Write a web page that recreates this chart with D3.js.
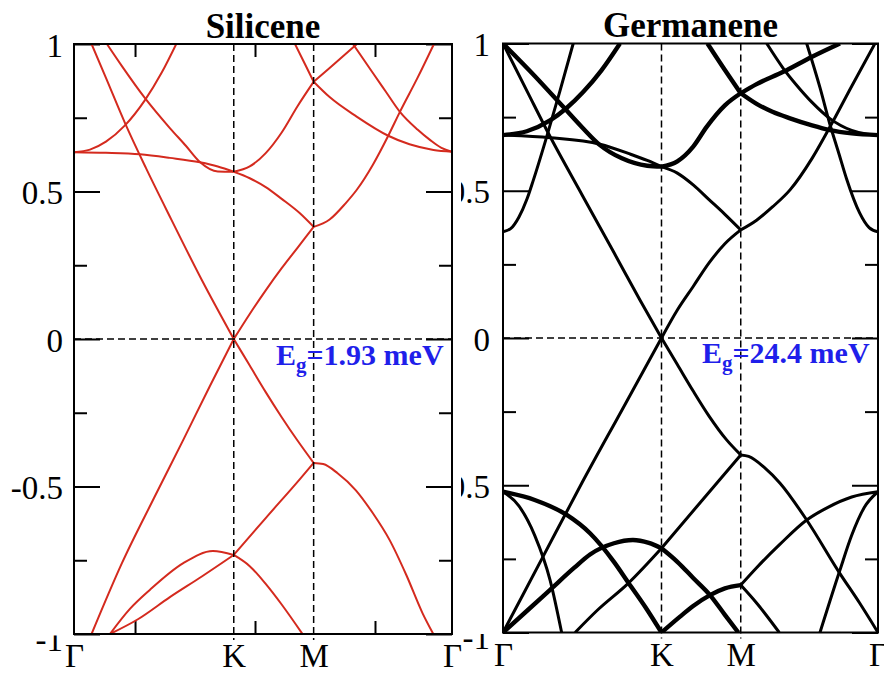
<!DOCTYPE html>
<html>
<head>
<meta charset="utf-8">
<script src="https://cdn.jsdelivr.net/npm/d3@7"></script>
<style>
body { margin: 0; background: #fff; }
</style>
</head>
<body>
<div id="chart"></div>
<script>
// k path G-K-M-G, distance in units of |GK|
var kPos = [0, 1, 1.5, 2.366];
var kLabels = ["\u0393", "K", "M", "\u0393"];
var yMajor = [-1, -0.5, 0, 0.5, 1];
var yMinor = [-0.75, -0.25, 0.25, 0.75];
var yLabels = ["-1", "-0.5", "0", "0.5", "1"];
var xMinorSil = [0.382, 1.133, 1.884];

var titles = ["Silicene", "Germanene"];
var gaps = ["1.93 meV", "24.4 meV"];

// [k, E] points
var siliceneBands = [
    [[0.11,1],[0.2,0.885],[0.32,0.731],[0.45,0.58],[0.611,0.403],[0.8,0.2],[1,0],[1.1,0.085],[1.2,0.165],[1.3,0.24],[1.4,0.31],[1.5,0.38],[1.6,0.405],[1.7,0.46],[1.769,0.505],[1.87,0.59],[1.967,0.689],[2.04,0.77],[2.15,0.885],[2.253,1]],
    [[0.11,-1],[0.3,-0.76],[0.5,-0.54],[0.684,-0.342],[0.85,-0.16],[1,0],[1.1,-0.09],[1.2,-0.18],[1.3,-0.265],[1.4,-0.345],[1.5,-0.42],[1.56,-0.424],[1.65,-0.455],[1.763,-0.512],[1.87,-0.59],[1.975,-0.681],[2.08,-0.8],[2.182,-0.93],[2.249,-1]],
    [[0.206,1],[0.3,0.925],[0.442,0.818],[0.6,0.715],[0.7,0.655],[0.788,0.6],[0.9,0.568],[1,0.567],[1.1,0.585],[1.2,0.63],[1.3,0.7],[1.4,0.79],[1.5,0.872],[1.6,0.919],[1.771,1]],
    [[0,0.633],[0.2,0.631],[0.413,0.626],[0.6,0.614],[0.788,0.599],[0.9,0.585],[1,0.567],[1.1,0.545],[1.2,0.515],[1.3,0.475],[1.414,0.426],[1.5,0.38]],
    [[0,0.633],[0.1,0.642],[0.2,0.669],[0.319,0.724],[0.442,0.808],[0.55,0.904],[0.64,1]],
    [[1.383,1],[1.45,0.927],[1.5,0.872],[1.6,0.82],[1.769,0.754],[1.967,0.689],[2.1,0.66],[2.25,0.641],[2.366,0.635]],
    [[1.746,1],[1.873,0.9],[1.95,0.84],[2.04,0.77],[2.15,0.71],[2.228,0.675],[2.3,0.648],[2.366,0.635]],
    [[0.225,-1],[0.4,-0.95],[0.6,-0.875],[0.8,-0.805],[1,-0.732],[1.2,-0.607],[1.414,-0.475],[1.5,-0.42]],
    [[0.225,-1],[0.35,-0.915],[0.476,-0.85],[0.684,-0.76],[0.87,-0.719],[1,-0.732],[1.1,-0.77],[1.2,-0.83],[1.3,-0.9],[1.43,-1]]
];

var germaneneBands = [
    [[0,1],[0.15,0.84],[0.297,0.684],[0.5,0.485],[0.7,0.29],[0.864,0.129],[1,0],[1.1,0.095],[1.2,0.175],[1.3,0.255],[1.4,0.32],[1.5,0.367],[1.6,0.4],[1.7,0.445],[1.811,0.503],[1.95,0.61],[2.063,0.717],[2.2,0.855],[2.347,1]],
    [[0,-1],[0.25,-0.745],[0.5,-0.49],[0.75,-0.245],[1,0],[1.1,-0.09],[1.2,-0.18],[1.3,-0.265],[1.411,-0.346],[1.5,-0.397],[1.55,-0.402],[1.65,-0.44],[1.748,-0.493],[1.916,-0.618],[2.126,-0.8],[2.25,-0.9],[2.366,-1]],
    [[0,1],[0.2,0.89],[0.38,0.785],[0.5,0.715],[0.612,0.655],[0.75,0.61],[0.91,0.585],[1,0.582],[1.1,0.6],[1.2,0.65],[1.285,0.717],[1.4,0.79],[1.5,0.831],[1.6,0.862],[1.769,0.904],[1.95,0.955],[2.126,1]],
    [[0,0.689],[0.3,0.68],[0.612,0.658],[0.8,0.625],[0.91,0.603],[1,0.582],[1.1,0.56],[1.2,0.52],[1.3,0.47],[1.4,0.42],[1.5,0.367]],
    [[0,0.361],[0.05,0.372],[0.1,0.41],[0.15,0.47],[0.192,0.537],[0.276,0.684],[0.36,0.84],[0.443,1]],
    [[1.916,1],[2,0.85],[2.063,0.725],[2.12,0.625],[2.168,0.54],[2.25,0.425],[2.31,0.375],[2.366,0.361]],
    [[0,0.689],[0.15,0.702],[0.297,0.739],[0.4,0.78],[0.507,0.836],[0.62,0.908],[0.738,1]],
    [[1.29,1],[1.4,0.91],[1.5,0.831],[1.6,0.795],[1.7,0.768],[1.811,0.746],[1.95,0.722],[2.063,0.706],[2.2,0.695],[2.366,0.689]],
    [[1.664,1],[1.769,0.915],[1.85,0.86],[1.95,0.8],[2.063,0.745],[2.2,0.705],[2.3,0.692],[2.366,0.689]],
    [[0,-1],[0.15,-0.927],[0.297,-0.855],[0.45,-0.78],[0.549,-0.735],[0.7,-0.697],[0.82,-0.686],[0.92,-0.696],[1,-0.714],[1.1,-0.76],[1.2,-0.815],[1.306,-0.873],[1.4,-0.94],[1.485,-1]],
    [[0.455,-1],[0.6,-0.922],[0.79,-0.833],[1,-0.714],[1.222,-0.573],[1.5,-0.397]],
    [[0,-0.522],[0.2,-0.55],[0.4,-0.6],[0.549,-0.663],[0.7,-0.76],[0.79,-0.83],[0.9,-0.915],[1,-1]],
    [[0,-0.522],[0.1,-0.57],[0.2,-0.67],[0.297,-0.822],[0.37,-1]],
    [[2,-1],[2.126,-0.788],[2.2,-0.67],[2.28,-0.575],[2.366,-0.522]],
    [[1,-1],[1.117,-0.946],[1.2,-0.91],[1.306,-0.873],[1.4,-0.85],[1.5,-0.839]],
    [[1.5,-0.839],[1.6,-0.78],[1.748,-0.7],[1.916,-0.618],[2.05,-0.575],[2.2,-0.54],[2.366,-0.522]],
    [[1.5,-0.839],[1.6,-0.9],[1.743,-1]]
];
// doubly degenerate bands drawn heavier
var germaneneBold = [2, 6, 7, 9, 11, 14];

var W = 884, H = 674;
var FONT = "'Liberation Serif', 'Times New Roman', serif";

var svg = d3.select("#chart").append("svg")
    .attr("width", W)
    .attr("height", H)
    .style("display", "block");

var defs = svg.append("defs");
// hides the top of the "-1" labels like in the original
defs.append("clipPath").attr("id", "negOneClip")
    .append("rect").attr("x", -80).attr("y", 1).attr("width", 80).attr("height", 50);

function drawPanel(p) {
    var x = d3.scaleLinear().domain([0, kPos[3]]).range([p.x0, p.x1]);
    var y = d3.scaleLinear().domain([-1, 1]).range([p.y1, p.y0]);
    var g = svg.append("g");

    defs.append("clipPath").attr("id", p.id + "Clip")
        .append("rect")
        .attr("x", p.x0).attr("y", p.y0)
        .attr("width", p.x1 - p.x0).attr("height", p.y1 - p.y0);

    // y axes, ticks point inward
    var left = g.append("g").attr("transform", "translate(" + p.x0 + ",0)")
        .call(d3.axisLeft(y).tickValues(yMajor).tickSize(-26).tickPadding(p.labelPad)
            .tickFormat(function(d, i){ return yLabels[i]; }));
    left.append("g").call(d3.axisLeft(y).tickValues(yMinor).tickSize(-13).tickFormat(""));
    var right = g.append("g").attr("transform", "translate(" + p.x1 + ",0)")
        .call(d3.axisRight(y).tickValues(yMajor).tickSize(-26).tickFormat(""));
    right.append("g").call(d3.axisRight(y).tickValues(yMinor).tickSize(-13).tickFormat(""));

    var xlab = g.append("g").attr("transform", "translate(0," + p.y1 + ")")
        .call(d3.axisBottom(x).tickValues(kPos).tickSize(0).tickPadding(10)
            .tickFormat(function(d, i){ return kLabels[i]; }));
    if (p.xMinor) {
        g.append("g").attr("transform", "translate(0," + p.y1 + ")")
            .call(d3.axisBottom(x).tickValues(p.xMinor).tickSize(-13).tickFormat(""));
        g.append("g").attr("transform", "translate(0," + p.y0 + ")")
            .call(d3.axisTop(x).tickValues(p.xMinor).tickSize(-13).tickFormat(""));
    }

    g.selectAll(".domain").remove();
    g.selectAll(".tick line").attr("stroke", "#000").attr("stroke-width", 2);
    g.selectAll("text")
        .attr("font-family", FONT)
        .attr("font-size", 33)
        .attr("fill", "#000");
    left.selectAll(".tick text").attr("dy", "0.37em");
    left.selectAll(".tick").filter(function(d){ return d === -1; }).select("text")
        .attr("y", 4)
        .attr("clip-path", "url(#negOneClip)");
    xlab.selectAll(".tick text").attr("dy", "0.71em");

    // bands, split at the high-symmetry points so kinks stay sharp
    var line = d3.line()
        .x(function(d){ return x(d[0]); })
        .y(function(d){ return y(d[1]); })
        .curve(d3.curveMonotoneX);
    var segs = [];
    p.bands.forEach(function(b, i){
        for (var s = 0; s < 3; s++) {
            var pts = b.filter(function(d){ return d[0] >= kPos[s] - 1e-6 && d[0] <= kPos[s + 1] + 1e-6; });
            if (pts.length > 1) segs.push({pts: pts, bold: p.bold.indexOf(i) >= 0});
        }
    });
    g.append("g").attr("clip-path", "url(#" + p.id + "Clip)")
        .selectAll("path")
        .data(segs)
        .join("path")
        .attr("d", function(d){ return line(d.pts); })
        .attr("fill", "none")
        .attr("stroke", p.color)
        .attr("stroke-width", function(d){ return d.bold ? p.width + 1.4 : p.width; })
        .attr("stroke-linejoin", "round");

    // dashed guides at K, M and E = 0
    var dash = g.append("g")
        .attr("stroke", "#000")
        .attr("stroke-width", 1.5)
        .attr("stroke-dasharray", "7,4");
    dash.selectAll("line.v")
        .data([kPos[1], kPos[2]])
        .join("line")
        .attr("class", "v")
        .attr("x1", x).attr("x2", x)
        .attr("y1", p.y0).attr("y2", p.y1 + 6);
    dash.append("line")
        .attr("x1", p.x0).attr("x2", p.x1)
        .attr("y1", y(0)).attr("y2", y(0));

    // frame
    g.append("rect")
        .attr("x", p.x0).attr("y", p.y0)
        .attr("width", p.x1 - p.x0).attr("height", p.y1 - p.y0)
        .attr("fill", "none")
        .attr("stroke", "#000")
        .attr("stroke-width", 2);

    g.append("text")
        .attr("x", (p.x0 + p.x1) / 2)
        .attr("y", p.titleY)
        .attr("text-anchor", "middle")
        .attr("font-family", FONT)
        .attr("font-weight", "bold")
        .attr("font-size", 35)
        .text(p.title);

    var eg = g.append("text")
        .attr("x", p.gapX)
        .attr("y", p.gapY)
        .attr("font-family", FONT)
        .attr("font-weight", "bold")
        .attr("font-size", 30)
        .attr("fill", "#1f1fea");
    eg.append("tspan").text("E");
    eg.append("tspan").attr("dy", 7).attr("font-size", 21).text("g");
    eg.append("tspan").attr("dy", -7).text("=" + p.gap);
    return g;
}

drawPanel({
    id: "ger", x0: 503, x1: 878, y0: 43.5, y1: 632.5,
    bands: germaneneBands, bold: germaneneBold, color: "#000", width: 3,
    xMinor: null, labelPad: 13,
    title: titles[1], titleY: 37, gap: gaps[1], gapX: 702, gapY: 363
});

// the left picture sits on top of the right one and hides part of its labels
svg.append("rect")
    .attr("x", 0).attr("y", 0)
    .attr("width", 461).attr("height", H)
    .attr("fill", "#fff");

drawPanel({
    id: "sil", x0: 74, x1: 452, y0: 44, y1: 634,
    bands: siliceneBands, bold: [], color: "#d42a1e", width: 2,
    xMinor: xMinorSil, labelPad: 11,
    title: titles[0], titleY: 38, gap: gaps[0], gapX: 276, gapY: 365
});
</script>
</body>
</html>
